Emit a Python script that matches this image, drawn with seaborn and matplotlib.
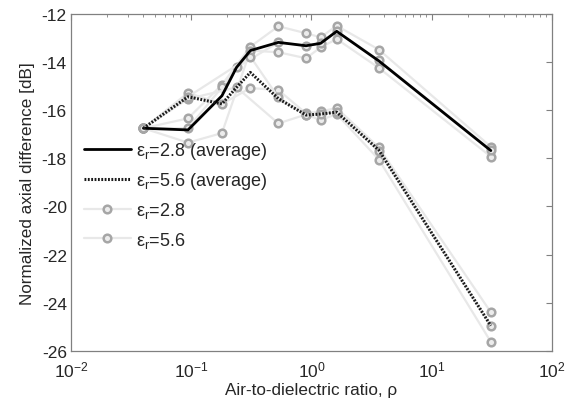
import numpy as np
import pandas as pd
import matplotlib
matplotlib.use("Agg")
import matplotlib.pyplot as plt
import seaborn as sns

# averaged curves
rho_avg = [0.04, 0.094, 0.18, 0.238, 0.31, 0.53, 0.9, 1.19, 1.62, 3.63, 31]
avg_28 = [-16.75, -16.82, -15.40, -14.22, -13.52, -13.18, -13.32, -13.22, -12.72, -13.95, -17.68]
avg_56 = [-16.75, -15.44, -15.74, -15.05, -14.43, -15.52, -16.20, -16.16, -16.08, -17.66, -24.96]

# individual runs, eps_r = 2.8
rho_28a = [0.04, 0.094, 0.18, 0.31, 0.53, 0.9, 1.19, 1.62, 3.63, 31]
db_28a = [-16.75, -16.34, -14.94, -13.36, -12.51, -12.80, -12.97, -12.49, -13.48, -17.52]
rho_28b = [0.04, 0.094, 0.18, 0.31, 0.53, 0.9, 1.19, 1.62, 3.63, 31]
db_28b = [-16.75, -17.35, -16.95, -13.52, -13.59, -13.84, -13.39, -13.04, -14.24, -17.93]
rho_28c = [0.04, 0.094, 0.18, 0.238, 0.53, 0.9, 1.19, 1.62, 3.63, 31]
db_28c = [-16.75, -16.75, -15.05, -14.22, -13.18, -13.32, -13.22, -12.72, -13.93, -17.65]

# individual runs, eps_r = 5.6
rho_56a = [0.04, 0.094, 0.18, 0.31, 0.53, 0.9, 1.19, 1.62, 3.63, 31]
db_56a = [-16.75, -15.28, -15.74, -15.08, -15.16, -16.13, -16.05, -15.91, -17.55, -24.40]
rho_56b = [0.04, 0.094, 0.238, 0.53, 0.9, 1.19, 1.62, 3.63, 31]
db_56b = [-16.75, -15.53, -15.05, -16.55, -16.18, -16.41, -16.16, -18.05, -25.63]
rho_56c = [0.04, 0.094, 0.31, 0.53, 0.9, 1.19, 1.62, 3.63, 31]
db_56c = [-16.75, -15.44, -13.77, -15.47, -16.20, -16.16, -16.08, -17.70, -24.96]

lab_28 = "ε$_\\mathregular{r}$=2.8"
lab_56 = "ε$_\\mathregular{r}$=5.6"

runs = [
    (rho_28a, db_28a, lab_28),
    (rho_28b, db_28b, None),
    (rho_28c, db_28c, None),
    (rho_56a, db_56a, lab_56),
    (rho_56b, db_56b, None),
    (rho_56c, db_56c, None),
]


def main():
    sns.set_style("white")
    plt.rcParams['font.family'] = ['Liberation Sans', 'DejaVu Sans']
    plt.rcParams['mathtext.default'] = 'regular'
    plt.rcParams['axes.unicode_minus'] = False

    fig = plt.figure(figsize=(5.69, 4.02), dpi=100)
    ax = fig.add_axes([0.1248, 0.1251, 0.8453, 0.8376])

    handles = {}
    # gray individual runs (behind)
    for rho, db, lab in runs:
        df = pd.DataFrame({"rho": rho, "db": db})
        sns.lineplot(data=df, x="rho", y="db", ax=ax, estimator=None, sort=False,
                     color="#e8e8e8", linewidth=1.6, marker="o", markersize=5.5,
                     markerfacecolor="#ececec", markeredgecolor="#a6a6a6",
                     markeredgewidth=1.8, zorder=2)
        if lab:
            handles[lab] = ax.lines[-1]

    # averages
    df28 = pd.DataFrame({"rho": rho_avg, "db": avg_28})
    df56 = pd.DataFrame({"rho": rho_avg, "db": avg_56})
    sns.lineplot(data=df28, x="rho", y="db", ax=ax, estimator=None, sort=False,
                 color="black", linewidth=2.0, zorder=4)
    h28 = ax.lines[-1]
    sns.lineplot(data=df56, x="rho", y="db", ax=ax, estimator=None, sort=False,
                 color="#1a1a1a", linewidth=2.2, zorder=4)
    h56 = ax.lines[-1]
    h56.set_linestyle((0, (0.6, 0.5)))

    ax.set_xscale("log")
    ax.set_xlim(1e-2, 1e2)
    ax.set_ylim(-26, -12)
    ax.set_yticks(np.arange(-26, -11, 2))

    ax.set_xlabel("Air-to-dielectric ratio, ρ", fontsize=12.3, labelpad=2)
    ax.set_ylabel("Normalized axial difference [dB]", fontsize=12.3, labelpad=5)

    for s in ax.spines.values():
        s.set_color("#808080")
        s.set_linewidth(0.9)
    ax.tick_params(which="both", direction="in", top=True, right=True,
                   color="#808080", labelsize=12.5)
    ax.tick_params(axis="x", pad=6)
    ax.tick_params(axis="y", pad=3)
    ax.tick_params(which="major", length=4)
    ax.tick_params(which="minor", length=2.5)
    ax.minorticks_on()
    ax.yaxis.set_minor_locator(matplotlib.ticker.NullLocator())

    ax.legend([h28, h56, handles[lab_28], handles[lab_56]],
              [lab_28 + " (average)", lab_56 + " (average)", lab_28, lab_56],
              loc="lower left", bbox_to_anchor=(0.0, 0.263), frameon=False,
              fontsize=13, handlelength=2.6, handletextpad=0.3,
              labelspacing=0.5, borderaxespad=0.3)

    fig.savefig("out.png", dpi=100)
    plt.close(fig)


if __name__ == "__main__":
    main()
